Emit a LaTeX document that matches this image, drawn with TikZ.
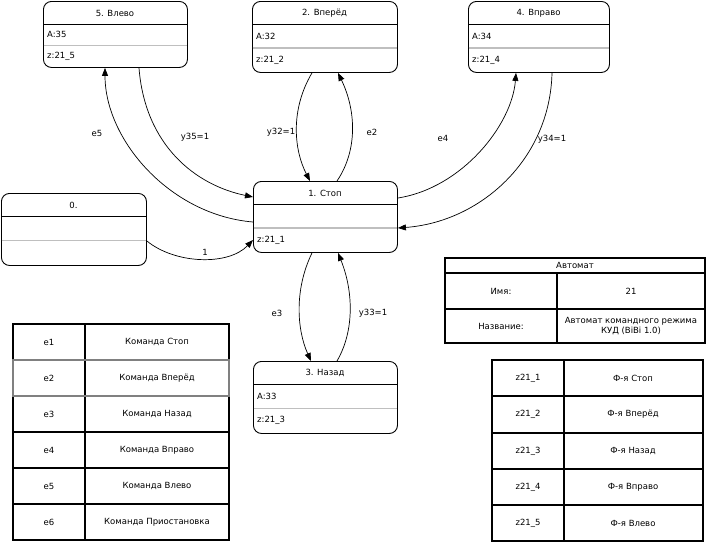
\documentclass[tikz,border=0pt]{standalone}
\usepackage{fontspec}
\setmainfont{DejaVu Sans}
\usetikzlibrary{arrows.meta,calc}
\tikzset{
  statebox/.style={draw=black, line width=0.9pt, rounded corners=8pt, inner sep=0pt, anchor=north west},
  sepline/.style={draw=black, line width=0.9pt},
  grayline/.style={draw=black!25, line width=1.6pt},
  txt/.style={font=\fontsize{8.5}{10}\selectfont, inner sep=1pt},
  lbl/.style={font=\fontsize{8.5}{10}\selectfont, inner sep=1pt},
  conn/.style={draw=black, line width=0.7pt, -{Triangle[length=8pt,width=6pt]}},
  tabline/.style={draw=black, line width=1.1pt},
  selrow/.style={draw=black!50, line width=1.3pt},
}
% #1 name, #2 x1, #3 y1, #4 x2, #5 y2, #6 title, #7 row A, #8 row z
\newcommand{\fsmstate}[8]{%
  \pgfmathsetmacro{\gy}{(#3+23+#5)/2}%
  \node[statebox, minimum width={(#4-#2)*1pt}, minimum height={(#5-#3)*1pt}] (#1) at (#2,#3) {};
  \draw[sepline] (#2,{#3+23}) -- (#4,{#3+23});
  \draw[grayline] ({#2+0.5},\gy) -- ({#4-0.5},\gy);
  \node[txt] (#1t) at ({(#2+#4)/2},{#3+12}) {#6};
  \node[txt, anchor=west] (#1a) at ({#2+3},{(#3+23+\gy)/2}) {#7};
  \node[txt, anchor=west] (#1z) at ({#2+3},{(\gy+#5)/2}) {#8};
}
\begin{document}
\begin{tikzpicture}[x=1pt,y=-1pt]
\useasboundingbox (0,0) rectangle (709,541);
\fill[white] (0,0) rectangle (709,541);

% states
\fsmstate{s5}{43}{1}{187}{67}{5. Влево}{A:35}{z:21\_5}
\fsmstate{s2}{252}{1}{397}{72}{2. Вперёд}{A:32}{z:21\_2}
\fsmstate{s4}{468}{1}{609}{72}{4. Вправо}{A:34}{z:21\_4}
\fsmstate{s1}{253}{181}{397}{252}{1. Стоп}{}{z:21\_1}
\fsmstate{s3}{253}{361}{397}{433}{3. Назад}{A:33}{z:21\_3}
\fsmstate{s0}{1}{193}{146}{265}{0.}{}{}

% connectors
\draw[conn] ($(s0.north east)+(0,48)$) .. controls (175,264) and (228,266) .. ($(s1.north west)+(0,59)$);
\draw[conn] ($(s1.north west)+(0,41)$) .. controls (170,215) and (105,140) .. ($(s5.south west)+(62,0)$);
\draw[conn] ($(s5.south west)+(96,0)$) .. controls (145,145) and (195,185) .. ($(s1.north west)+(0,16)$);
\draw[conn] ($(s2.south west)+(60,0)$) .. controls (290,110) and (294,150) .. ($(s1.north west)+(57,0)$);
\draw[conn] ($(s1.north west)+(84,0)$) .. controls (358,150) and (356,110) .. ($(s2.south west)+(86,0)$);
\draw[conn] ($(s1.north east)+(0,17)$) .. controls (462,188) and (512,125) .. ($(s4.south west)+(48,0)$);
\draw[conn] ($(s4.south west)+(84,0)$) .. controls (550,160) and (480,222) .. ($(s1.north east)+(0,47)$);
\draw[conn] ($(s1.south west)+(59,0)$) .. controls (294,290) and (297,330) .. ($(s3.north west)+(58,0)$);
\draw[conn] ($(s3.north west)+(84,0)$) .. controls (355,330) and (353,290) .. ($(s1.south west)+(85,0)$);

% connector labels
\node[lbl] (l01) at (205,252) {1};
\node[lbl] (le5) at (97,133) {e5};
\node[lbl] (ly35) at (195,137) {y35=1};
\node[lbl] (ly32) at (281,132) {y32=1};
\node[lbl] (le2) at (372,132) {e2};
\node[lbl] (le4) at (443,138) {e4};
\node[lbl] (ly34) at (552,139) {y34=1};
\node[lbl] (le3) at (277,313) {e3};
\node[lbl] (ly33) at (373,313) {y33=1};

% left table
\draw[tabline] (13,324) rectangle (229,540);
\draw[tabline] (85,324) -- (85,540);
\foreach \yy in {360,396,432,468,504} \draw[tabline] (13,\yy) -- (229,\yy);
\draw[selrow] (13,360) rectangle (229,396);
\node[txt] (ta1) at (49,342) {e1};  \node[txt] (tb1) at (157,342) {Команда Стоп};
\node[txt] (ta2) at (49,378) {e2};  \node[txt] (tb2) at (157,378) {Команда Вперёд};
\node[txt] (ta3) at (49,414) {e3};  \node[txt] (tb3) at (157,414) {Команда Назад};
\node[txt] (ta4) at (49,450) {e4};  \node[txt] (tb4) at (157,450) {Команда Вправо};
\node[txt] (ta5) at (49,486) {e5};  \node[txt] (tb5) at (157,486) {Команда Влево};
\node[txt] (ta6) at (49,522) {e6};  \node[txt] (tb6) at (157,522) {Команда Приостановка};

% right table
\draw[tabline] (492,360) rectangle (703,541);
\draw[tabline] (564,360) -- (564,541);
\foreach \yy in {396,433,469,505} \draw[tabline] (492,\yy) -- (703,\yy);
\node[txt] (za1) at (528,378) {z21\_1}; \node[txt] (zb1) at (633,378) {Ф-я Стоп};
\node[txt] (za2) at (528,414) {z21\_2}; \node[txt] (zb2) at (633,414) {Ф-я Вперёд};
\node[txt] (za3) at (528,451) {z21\_3}; \node[txt] (zb3) at (633,451) {Ф-я Назад};
\node[txt] (za4) at (528,487) {z21\_4}; \node[txt] (zb4) at (633,487) {Ф-я Вправо};
\node[txt] (za5) at (528,523) {z21\_5}; \node[txt] (zb5) at (633,523) {Ф-я Влево};

% automat table
\draw[tabline] (445,258) rectangle (705,343);
\draw[tabline] (445,273) -- (705,273);
\draw[tabline] (445,309) -- (705,309);
\draw[tabline] (557,273) -- (557,343);
\node[txt] (ah) at (575,265.5) {Автомат};
\node[txt] (an1) at (501,291) {Имя:};
\node[txt] (av1) at (631,291) {21};
\node[txt] (an2) at (501,326) {Название:};
\node[txt, align=center] (av2) at (631,326) {Автомат командного режима\\КУД (BiBi 1.0)};
\end{tikzpicture}
\end{document}
